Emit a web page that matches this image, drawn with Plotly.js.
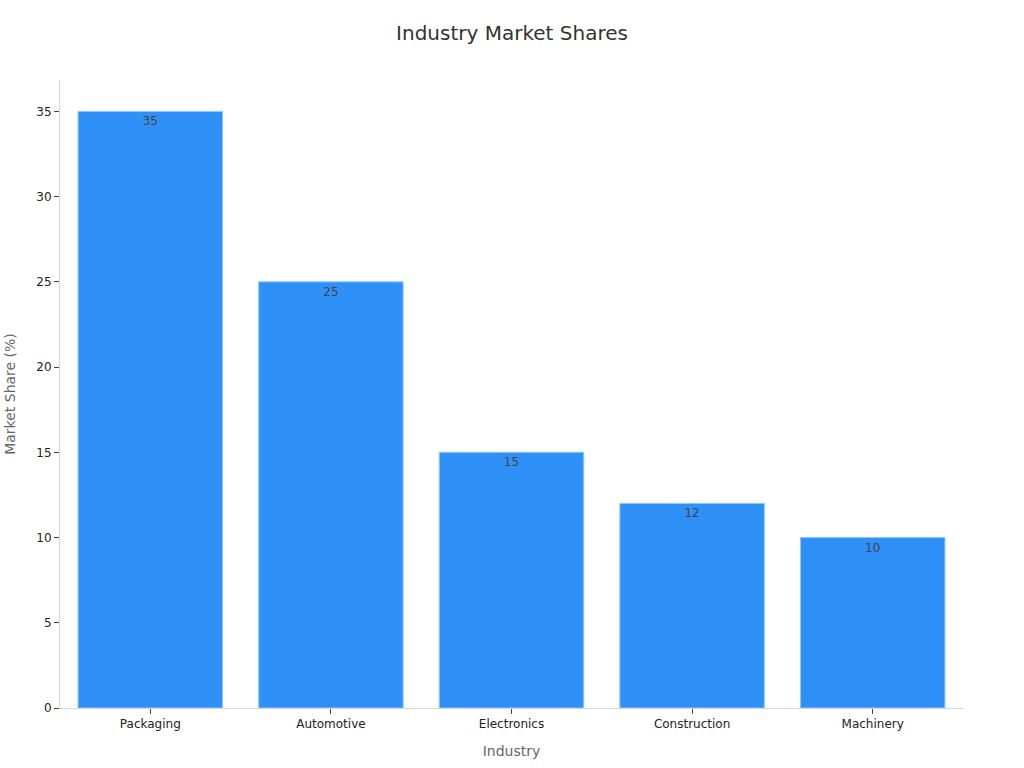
<!DOCTYPE html>
<html>
<head>
<meta charset="utf-8">
<script src="https://cdn.plot.ly/plotly-3.0.1.min.js"></script>
<style>
  body { margin: 0; background: #fff; }
  #myPlot { width: 1024px; height: 768px; }
</style>
</head>
<body>
<div id="myPlot"></div>
<script>
let industries = ["Packaging", "Automotive", "Electronics", "Construction", "Machinery"];
let shares = [35, 25, 15, 12, 10];

let trace = {
  x: industries,
  y: shares,
  type: 'bar',
  text: shares.map(String),
  textposition: 'inside',
  insidetextanchor: 'end',
  textfont: { color: '#444', size: 12 },
  marker: { color: '#2f91f7', line: { color: '#8cc6ff', width: 1 } },
  hoverinfo: 'x+y'
};

let layout = {
  width: 1024,
  height: 768,
  font: { family: 'DejaVu Sans, sans-serif', color: '#222' },
  title: { text: 'Industry Market Shares', font: { size: 20, color: '#333' }, x: 0.5, y: 0.966 },
  margin: { l: 60, r: 61, t: 80, b: 60 },
  bargap: 0.2,
  plot_bgcolor: '#fff',
  paper_bgcolor: '#fff',
  xaxis: {
    title: { text: 'Industry', font: { size: 14, color: '#666' }, standoff: 15 },
    showline: true, linecolor: '#d6d6d6', linewidth: 1,
    ticks: 'outside', tickcolor: '#444', ticklen: 5,
    tickfont: { size: 12 }, automargin: false
  },
  yaxis: {
    title: { text: 'Market Share (%)', font: { size: 14, color: '#666' }, standoff: 17 },
    showline: true, linecolor: '#d6d6d6', linewidth: 1,
    showgrid: false, zeroline: false,
    ticks: 'outside', tickcolor: '#444', ticklen: 5,
    tickfont: { size: 12 }, dtick: 5, automargin: false
  },
  showlegend: false
};

Plotly.newPlot("myPlot", [trace], layout, { displayModeBar: false });
</script>
</body>
</html>
